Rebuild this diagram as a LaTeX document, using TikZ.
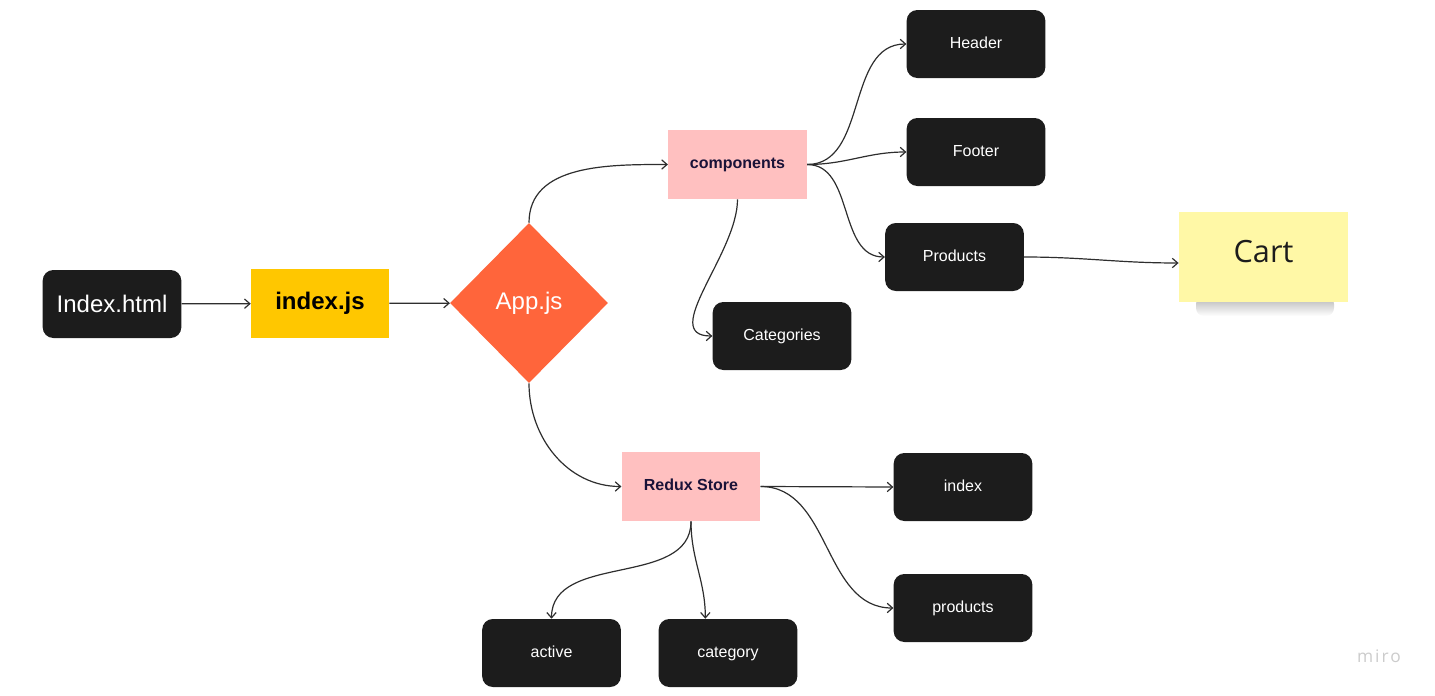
\documentclass[tikz,border=0pt]{standalone}
\usepackage{fontspec}
\setmainfont{Liberation Sans}
\newfontfamily\notefont{Open Sans}
\newfontfamily\markfont[LetterSpace=12]{Open Sans}
\usetikzlibrary{shapes.geometric, arrows.meta}
\definecolor{boxdark}{HTML}{1C1C1C}
\definecolor{jsyellow}{HTML}{FFC700}
\definecolor{appred}{HTML}{FF653B}
\definecolor{dirpink}{HTML}{FFC0C0}
\definecolor{notey}{HTML}{FFF8A6}
\definecolor{inkblue}{HTML}{1A1238}
\definecolor{wire}{HTML}{2E2E2E}

\begin{document}
\begin{tikzpicture}[
    x=0.75pt, y=-0.75pt,
    file/.style={rounded corners=8pt, fill=boxdark, text=white,
                 minimum width=104pt, minimum height=51pt,
                 text height=1.6ex, text depth=0.4ex,
                 font=\fontsize{12}{14}\selectfont},
    dir/.style={fill=dirpink, text=inkblue, minimum width=104pt,
                minimum height=52pt, text height=1.6ex, text depth=0.4ex,
                font=\fontsize{12}{14}\selectfont\bfseries},
    flow/.style={-{Straight Barb[length=4pt, width=7pt]}, draw=wire, line width=0.9pt},
  ]
  \useasboundingbox (0,0) rectangle (1435,696);

  \node[file, text height=13pt, text depth=0pt,
        font=\fontsize{18}{20}\selectfont] (html) at (112,304) {Index.html};
  \node[fill=jsyellow, minimum width=103.5pt, minimum height=52pt,
        font=\fontsize{18}{20}\selectfont\bfseries] (indexjs) at (320,303.5) {index.js};
  \node[diamond, fill=appred, text=white, minimum width=118.5pt, minimum height=120pt,
        inner sep=0pt, font=\fontsize{18}{20}\selectfont] (app) at (529,303) {App.js};
  \draw[flow] (html) -- (indexjs);
  \draw[flow] (indexjs) -- (app);

  % components branch
  \node[dir] (comp) at (737.5,164.5) {components};
  \node[file] (header) at (976,44) {Header};
  \node[file] (footer) at (976,152) {Footer};
  \node[file] (products) at (954.5,257) {Products};
  \node[file] (categories) at (782,336) {Categories};
  \shade[top color=black!30, bottom color=white, rounded corners=6pt] (1196,296) rectangle (1334,316);
  \node[fill=notey, minimum width=127pt, minimum height=67.5pt,
        text height=16pt, text depth=8pt,
        font=\notefont\fontsize{23}{25}\selectfont, text=boxdark] (cart) at (1263.5,257) {Cart};
  \draw[flow] (app.north) to[out=90, in=180] (comp.west);
  \draw[flow] (comp.east) to[out=0, in=180] (header.west);
  \draw[flow] (comp.east) to[out=0, in=180] (footer.west);
  \draw[flow] (comp.east) to[out=0, in=180] (products.west);
  \draw[flow] (comp.south) to[out=-90, in=180] (categories.west);
  \draw[flow] (products.east) to[out=0, in=180] ([yshift=-4.5pt]cart.west);

  % store branch
  \node[dir] (store) at (691,486.5) {Redux Store};
  \node[file] (sindex) at (963,487) {index};
  \node[file] (sproducts) at (963,608) {products};
  \node[file] (active) at (551.5,653) {active};
  \node[file] (category) at (728,653) {category};
  \draw[flow] (app.south) to[out=-90, in=180] (store.west);
  \draw[flow] (store.east) -- (sindex.west);
  \draw[flow] (store.east) to[out=0, in=180] (sproducts.west);
  \draw[flow] (store.south) to[out=-90, in=90] (active.north);
  \draw[flow] (store.south) to[out=-90, in=90] ([xshift=-17pt]category.north);

  \node[text=black!20, font=\markfont\fontsize{13}{15}\selectfont] (miro) at (1379,656) {miro};
\end{tikzpicture}
\end{document}
